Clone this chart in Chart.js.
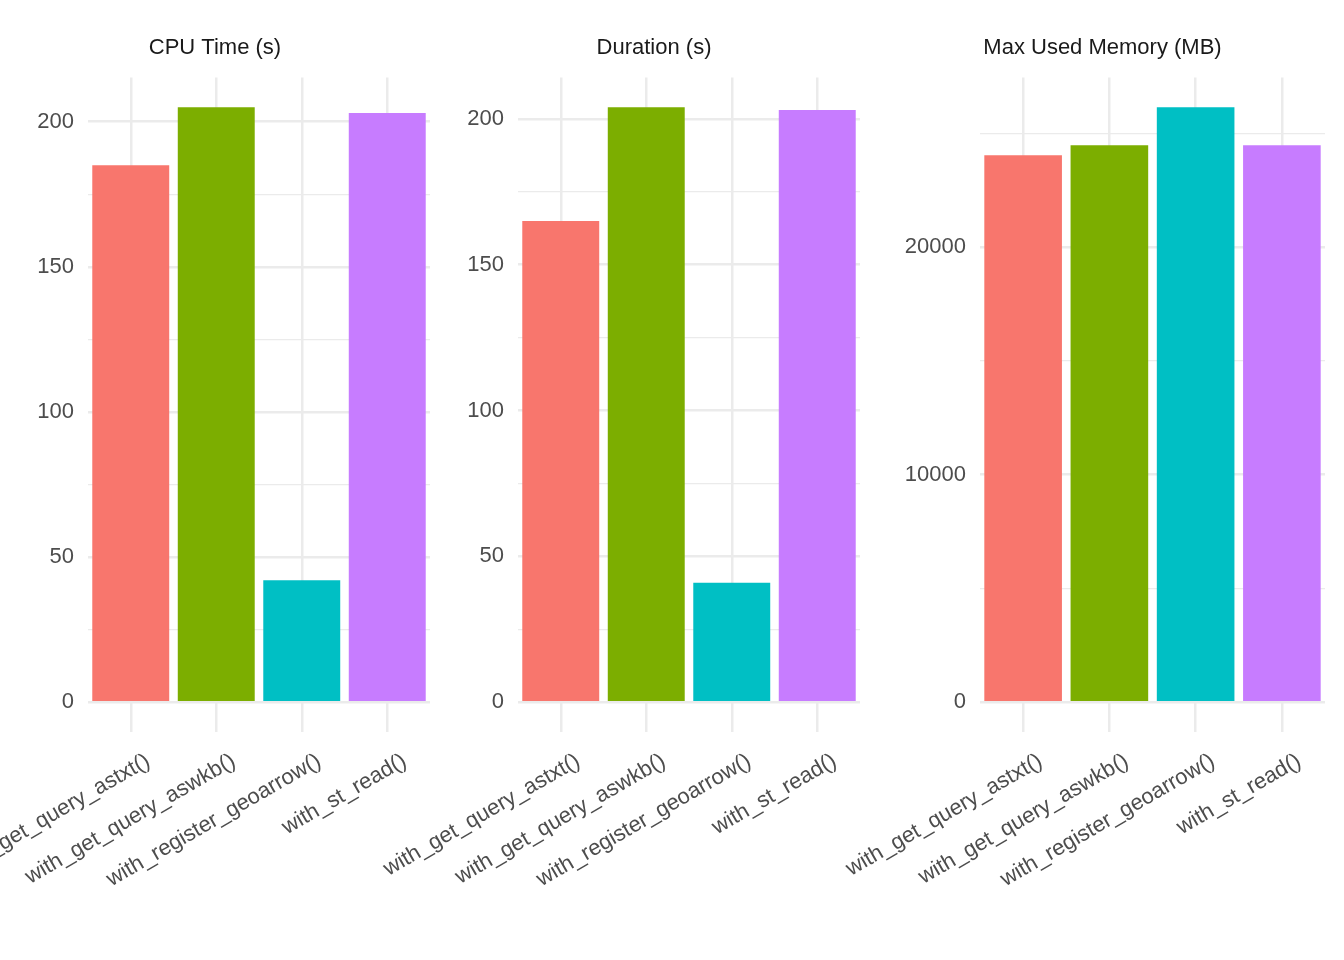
<!DOCTYPE html>
<html>
<head>
<meta charset="utf-8">
<script src="https://cdn.jsdelivr.net/npm/chart.js@4"></script>
<style>
  body { margin: 0; background: #fff; }
  #wrap { position: relative; width: 1344px; height: 960px; }
  canvas { position: absolute; left: 0; top: 0; }
</style>
</head>
<body>
<div id="wrap">
  <canvas id="c0" width="1344" height="960"></canvas>
  <canvas id="c1" width="1344" height="960"></canvas>
  <canvas id="c2" width="1344" height="960"></canvas>
</div>
<script>
const methods = ['with_get_query_astxt()', 'with_get_query_aswkb()', 'with_register_geoarrow()', 'with_st_read()'];
const colors = ['#F8766D', '#7CAE00', '#00BFC4', '#C77CFF'];
const titles = ['CPU Time (s)', 'Duration (s)', 'Max Used Memory (MB)'];
const cpuTime = [185, 205, 42, 203];
const duration = [165, 204, 41, 203];
const maxMemory = [24040, 24480, 26150, 24480];

const panels = [
    { data: cpuTime, padL: 0, axisW: 88, padR: 914, step: 25, major: 50 },
    { data: duration, padL: 448, axisW: 70, padR: 484, step: 25, major: 50 },
    { data: maxMemory, padL: 880, axisW: 100, padR: 19, step: 5000, major: 10000 }
];

const FONT = '"Liberation Sans", Arial, sans-serif';

// rotated x labels drawn at the library's tick positions
const xLabelPlugin = {
    id: 'xLabels',
    afterDraw(chart) {
        const x = chart.scales.x;
        const ctx = chart.ctx;
        ctx.save();
        ctx.font = '22px ' + FONT;
        ctx.fillStyle = '#4d4d4d';
        ctx.textAlign = 'right';
        ctx.textBaseline = 'top';
        chart.data.labels.forEach((label, i) => {
            const px = x.getPixelForTick(i);
            ctx.save();
            ctx.translate(px + 12, chart.chartArea.bottom + 18);
            ctx.rotate(-Math.PI / 6);
            ctx.fillText(label, 0, 0);
            ctx.restore();
        });
        ctx.restore();
    }
};

panels.forEach((p, idx) => {
    const maxVal = Math.max(...p.data);
    const expand = maxVal * 0.05;
    new Chart(document.getElementById('c' + idx), {
        type: 'bar',
        data: {
            labels: methods,
            datasets: [{
                data: p.data,
                backgroundColor: colors,
                barPercentage: 0.9,
                categoryPercentage: 1
            }]
        },
        options: {
            responsive: false,
            animation: false,
            layout: { padding: { left: p.padL, right: p.padR, top: 0, bottom: 228 } },
            plugins: {
                legend: { display: false },
                tooltip: { enabled: false },
                title: {
                    display: true,
                    text: titles[idx],
                    color: '#1a1a1a',
                    font: { size: 22, family: FONT, weight: 'normal' },
                    padding: { top: 35, bottom: 16 }
                }
            },
            scales: {
                x: {
                    ticks: { display: false },
                    grid: { color: '#ebebeb', lineWidth: 2.5, drawTicks: false, offset: false },
                    border: { display: false }
                },
                y: {
                    min: -expand,
                    max: maxVal + expand,
                    ticks: {
                        padding: 14,
                        color: '#4d4d4d',
                        font: { size: 22, family: FONT },
                        callback: v => (v % p.major === 0 ? v : '')
                    },
                    afterBuildTicks(scale) {
                        const ticks = [];
                        for (let v = 0; v <= maxVal + expand; v += p.step) ticks.push({ value: v });
                        scale.ticks = ticks;
                    },
                    afterFit(scale) { scale.width = p.axisW; },
                    grid: {
                        drawTicks: false,
                        color: '#ebebeb',
                        lineWidth: ctx => (ctx.tick && ctx.tick.value % p.major === 0 ? 2.5 : 1.2)
                    },
                    border: { display: false }
                }
            }
        },
        plugins: [xLabelPlugin]
    });
});
</script>
</body>
</html>
